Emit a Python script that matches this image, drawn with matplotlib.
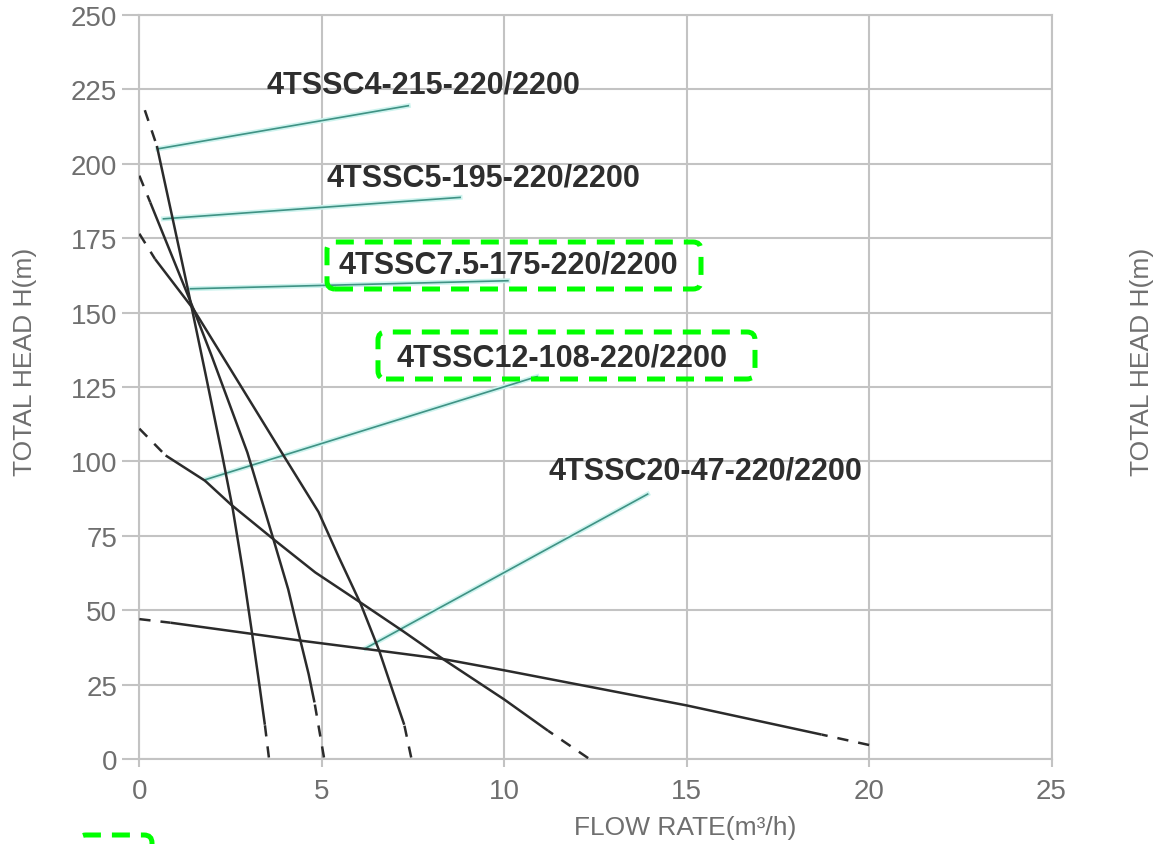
import matplotlib
matplotlib.use("Agg")
import matplotlib.pyplot as plt
from matplotlib.patches import FancyBboxPatch

plt.rcParams['font.family'] = ['Liberation Sans', 'DejaVu Sans']

# ---------------------------------------------------------------
# Datos: caudal (m3/h) y altura (m)
# ---------------------------------------------------------------
models = ['4TSSC4-215-220/2200', '4TSSC5-195-220/2200', '4TSSC7.5-175-220/2200',
          '4TSSC12-108-220/2200', '4TSSC20-47-220/2200']

# tramo continuo de cada curva
q_c4 = [0.48, 0.94, 1.31, 1.82, 2.28, 2.56, 2.84, 3.08, 3.30, 3.44]
h_c4 = [206, 180, 159, 129, 101.5, 84, 63, 43, 24, 11.5]
q_c5 = [0.30, 1.49, 1.98, 2.96, 3.67, 4.08, 4.40, 4.64, 4.80]
h_c5 = [187, 151, 135.5, 103, 74, 57, 40.5, 28.5, 19]
q_c75 = [0.43, 1.49, 2.27, 3.90, 4.91, 5.46, 6.07, 6.57, 6.94, 7.26]
h_c75 = [168, 151, 135.5, 103, 83, 68, 52, 36.5, 23, 11.5]
q_c12 = [0.72, 1.80, 2.51, 3.71, 4.82, 6.07, 7.22, 8.32, 10.0, 11.2]
h_c12 = [102, 93.5, 85.5, 73.5, 62.7, 52.5, 43, 33.6, 20, 9.5]
q_c20 = [0.85, 3.11, 4.40, 6.57, 8.32, 10.0, 15.0, 18.7]
h_c20 = [45.8, 42, 39.8, 36.4, 33.6, 29.8, 18, 8.2]

# tramos discontinuos (extremo lejano -> unión con el tramo continuo)
q_ini = [[0.15, 0.48], [0.0, 0.30], [0.0, 0.43], [0.0, 0.72], [0.0, 0.85]]
h_ini = [[218, 206], [196, 187], [176.5, 168], [111, 102], [47, 45.8]]
q_fin = [[3.55, 3.44], [5.06, 4.80], [7.45, 7.26], [12.3, 11.2], [20.0, 18.7]]
h_fin = [[0.5, 11.5], [0.5, 19], [0.5, 11.5], [0.3, 9.5], [4.7, 8.2]]

# líneas guía (desde la curva hasta la etiqueta)
q_guia = [[0.5, 7.37], [0.66, 8.79], [1.40, 10.1], [1.82, 10.9], [6.2, 13.93]]
h_guia = [[205, 219.5], [181.5, 188.7], [158, 160.7], [93.9, 128.5], [37.2, 89.0]]

# posición de las etiquetas (esquina izquierda, centro vertical)
q_lab = [3.48, 5.12, 5.45, 7.06, 11.22]
h_lab = [226.5, 195.5, 166, 135, 96.8]

x_ticks = [0, 5, 10, 15, 20, 25]
y_ticks = [0, 25, 50, 75, 100, 125, 150, 175, 200, 225, 250]

# ---------------------------------------------------------------
# Figura
# ---------------------------------------------------------------
fig = plt.figure(figsize=(11.71, 8.45), dpi=100)
ax = fig.add_axes([0.119, 0.1006, 0.779, 0.8805])

gris = '#c3c3c3'
texto_gris = '#6f6f6f'
curva = '#2b2b2b'
guia = '#3f9284'

ax.set_xlim(0, 25)
ax.set_ylim(0, 250)
ax.set_xticks(x_ticks)
ax.set_yticks(y_ticks)
ax.grid(True, color=gris, linewidth=1.5)
ax.set_axisbelow(True)
for s in ax.spines.values():
    s.set_color(gris)
    s.set_linewidth(1.5)
ax.tick_params(axis='y', length=12, width=1.5, color=gris, pad=4,
               labelsize=20, labelcolor=texto_gris)
ax.tick_params(axis='x', length=6, width=1.5, color=gris, pad=8,
               labelsize=20, labelcolor=texto_gris)

curvas = [(q_c4, h_c4), (q_c5, h_c5), (q_c75, h_c75), (q_c12, h_c12), (q_c20, h_c20)]
for i, (q, h) in enumerate(curvas):
    ax.plot(q, h, color=curva, linewidth=1.8, solid_capstyle='butt', zorder=3)
    ax.plot(q_ini[i], h_ini[i], color=curva, linewidth=1.8,
            linestyle=(0, (4.5, 4)), dash_capstyle='butt', zorder=3)
    ax.plot(q_fin[i], h_fin[i], color=curva, linewidth=1.8,
            linestyle=(0, (4.5, 4)), dash_capstyle='butt', zorder=3)

for i in range(len(models)):
    ax.plot(q_guia[i], h_guia[i], color='#cdf3ee', linewidth=3.5, zorder=2)
    ax.plot(q_guia[i], h_guia[i], color=guia, linewidth=1.2, zorder=2)
    ax.text(q_lab[i], h_lab[i], models[i], fontsize=22, fontweight='bold',
            color='#2e2e2e', ha='left', va='center', zorder=4)

# títulos de ejes
fig.text(0.021, 0.572, 'TOTAL HEAD H(m)', rotation=90, fontsize=19,
         color=texto_gris, ha='center', va='center')
fig.text(0.975, 0.572, 'TOTAL HEAD H(m)', rotation=90, fontsize=19,
         color=texto_gris, ha='center', va='center')
fig.text(0.585, 0.020, 'FLOW RATE(m³/h)', fontsize=19,
         color=texto_gris, ha='center', va='center')

# recuadros verdes discontinuos (en píxeles de la imagen)
cajas = [(327, 243, 701, 290), (378, 333, 755, 380), (78, 836, 152, 880)]
for x0, y0, x1, y1 in cajas:
    p = FancyBboxPatch((x0 / 100, (845 - y1) / 100), (x1 - x0) / 100, (y1 - y0) / 100,
                       boxstyle='round,pad=0,rounding_size=0.08',
                       transform=fig.dpi_scale_trans, fill=False,
                       edgecolor='#00ff00', linewidth=3.6,
                       linestyle=(0, (3.6, 2.2)), zorder=10)
    fig.patches.append(p)

fig.savefig('out.png', dpi=100)
